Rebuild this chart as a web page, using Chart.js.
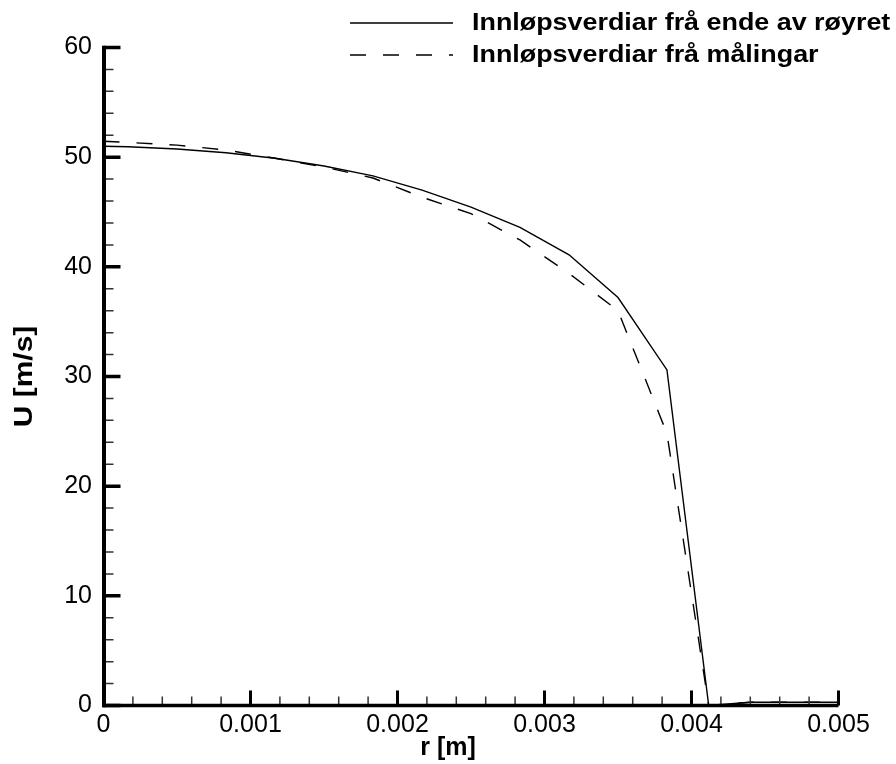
<!DOCTYPE html>
<html>
<head>
<meta charset="utf-8">
<script src="https://cdn.jsdelivr.net/npm/chart.js@4.4.0/dist/chart.umd.min.js"></script>
<style>
body { margin: 0; background: #fff; }
</style>
</head>
<body>
<canvas id="chart" width="896" height="764"></canvas>
<script>
// radius [m] and axial velocity [m/s] at the inlet
var r_pos  = [0, 0.000167, 0.0005, 0.000833, 0.001167, 0.0015, 0.001833, 0.002167, 0.0025, 0.002833, 0.003167, 0.0035, 0.003833, 0.004117, 0.0044, 0.005];
var u_end  = [51.0, 50.95, 50.75, 50.4, 49.9, 49.2, 48.3, 47.0, 45.45, 43.6, 41.1, 37.2, 30.6, 0, 0.3, 0.3];
var u_meas = [51.45, 51.35, 51.1, 50.65, 49.9, 49.1, 48.1, 46.35, 44.85, 42.45, 39.4, 36.0, 24.8, 0, 0.3, 0.3];

var series_names = ['Innløpsverdiar frå ende av røyret', 'Innløpsverdiar frå målingar'];
var x_title = 'r [m]';
var y_title = 'U [m/s]';
var x_ticks = [0, 0.001, 0.002, 0.003, 0.004, 0.005];
var y_ticks = [0, 10, 20, 30, 40, 50, 60];
var x_minor = 0.0002;
var y_minor = 2;

function pts(xs, ys) {
    return xs.map(function(v, i){ return {x: v, y: ys[i]}; });
}

// stretched text, the plot fonts are a bit wider than Arial
function wideText(ctx, txt, x, y, sx, rot) {
    ctx.save();
    ctx.translate(x, y);
    if (rot) ctx.rotate(rot);
    ctx.scale(sx, 1);
    ctx.fillText(txt, 0, 0);
    ctx.restore();
}

// axes, ticks, legend and titles drawn by hand on top of the plot
var frame = {
    id: 'frame',
    afterDraw: function(chart) {
        var ctx = chart.ctx, a = chart.chartArea;
        var xs = chart.scales.x, ys = chart.scales.y;
        ctx.save();
        ctx.lineCap = 'butt';

        // minor ticks
        ctx.lineWidth = 1.5;
        ctx.strokeStyle = '#333';
        ctx.beginPath();
        for (var v = x_minor; v < xs.max - 1e-9; v += x_minor) {
            var px = xs.getPixelForValue(v);
            ctx.moveTo(px, a.bottom);
            ctx.lineTo(px, a.bottom - 9);
        }
        for (var w = y_minor; w < ys.max - 1e-9; w += y_minor) {
            var py = ys.getPixelForValue(w);
            ctx.moveTo(a.left, py);
            ctx.lineTo(a.left + 10, py);
        }
        ctx.stroke();

        // major ticks
        ctx.strokeStyle = '#000';
        ctx.lineWidth = 3;
        ctx.beginPath();
        x_ticks.forEach(function(v){
            var px = xs.getPixelForValue(v);
            ctx.moveTo(px, a.bottom);
            ctx.lineTo(px, a.bottom - 15);
        });
        ctx.stroke();
        ctx.lineWidth = 3.5;
        ctx.beginPath();
        y_ticks.forEach(function(v){
            var py = ys.getPixelForValue(v);
            ctx.moveTo(a.left, py);
            ctx.lineTo(a.left + 17, py);
        });
        ctx.stroke();

        // axis lines
        ctx.lineWidth = 4;
        ctx.beginPath();
        ctx.moveTo(a.left + 0.5, ys.getPixelForValue(60) - 1.75);
        ctx.lineTo(a.left + 0.5, a.bottom + 1.75);
        ctx.stroke();
        ctx.lineWidth = 3.5;
        ctx.beginPath();
        ctx.moveTo(a.left - 1.5, a.bottom);
        ctx.lineTo(a.right, a.bottom);
        ctx.stroke();

        // axis titles
        ctx.fillStyle = '#000';
        ctx.font = 'bold 25px "Liberation Sans", Arial, sans-serif';
        ctx.textAlign = 'center';
        ctx.textBaseline = 'middle';
        wideText(ctx, x_title, 448, 748, 1.0, 0);
        wideText(ctx, y_title, 25, (a.top + a.bottom) / 2, 1.2, -Math.PI / 2);

        // legend
        ctx.textAlign = 'left';
        ctx.font = 'bold 24px "Liberation Sans", Arial, sans-serif';
        chart.data.datasets.forEach(function(ds, i){
            var ly = 23 + i * 32;
            ctx.lineWidth = ds.borderWidth;
            ctx.setLineDash(ds.borderDash || []);
            ctx.beginPath();
            ctx.moveTo(350, ly);
            ctx.lineTo(453, ly);
            ctx.stroke();
            ctx.setLineDash([]);
            wideText(ctx, ds.label, 472, ly, 1.12, 0);
        });
        ctx.restore();
    }
};

var ctx0 = document.getElementById('chart').getContext('2d');
var chart = new Chart(ctx0, {
    type: 'line',
    data: {
        datasets: [
            {
                label: series_names[0],
                data: pts(r_pos, u_end),
                borderColor: '#000',
                borderWidth: 1.4,
                pointRadius: 0,
                tension: 0,
                fill: false
            },
            {
                label: series_names[1],
                data: pts(r_pos, u_meas),
                borderColor: '#000',
                borderWidth: 1.4,
                borderDash: [16, 17],
                pointRadius: 0,
                tension: 0,
                fill: false
            }
        ]
    },
    options: {
        responsive: false,
        animation: false,
        layout: { padding: { top: 47.5, right: 57.5, left: 0, bottom: 0 } },
        plugins: {
            legend: { display: false },
            tooltip: { enabled: false }
        },
        scales: {
            x: {
                type: 'linear',
                min: 0,
                max: 0.005,
                afterFit: function(s){ s.height = 58.5; },
                afterBuildTicks: function(s){ s.ticks = x_ticks.map(function(v){ return {value: v}; }); },
                grid: { display: false, drawTicks: false },
                border: { display: false },
                ticks: {
                    padding: 5,
                    color: '#000',
                    font: { size: 25, family: '"Liberation Sans", Arial, sans-serif' },
                    callback: function(v){ return v === 0 ? '0' : v.toFixed(3); }
                }
            },
            y: {
                type: 'linear',
                min: 0,
                max: 60,
                afterFit: function(s){ s.width = 103.5; },
                afterBuildTicks: function(s){ s.ticks = y_ticks.map(function(v){ return {value: v}; }); },
                grid: { display: false, drawTicks: false },
                border: { display: false },
                ticks: {
                    padding: 11.5,
                    color: '#000',
                    font: { size: 25, family: '"Liberation Sans", Arial, sans-serif' }
                }
            }
        }
    },
    plugins: [frame]
});
</script>
</body>
</html>
